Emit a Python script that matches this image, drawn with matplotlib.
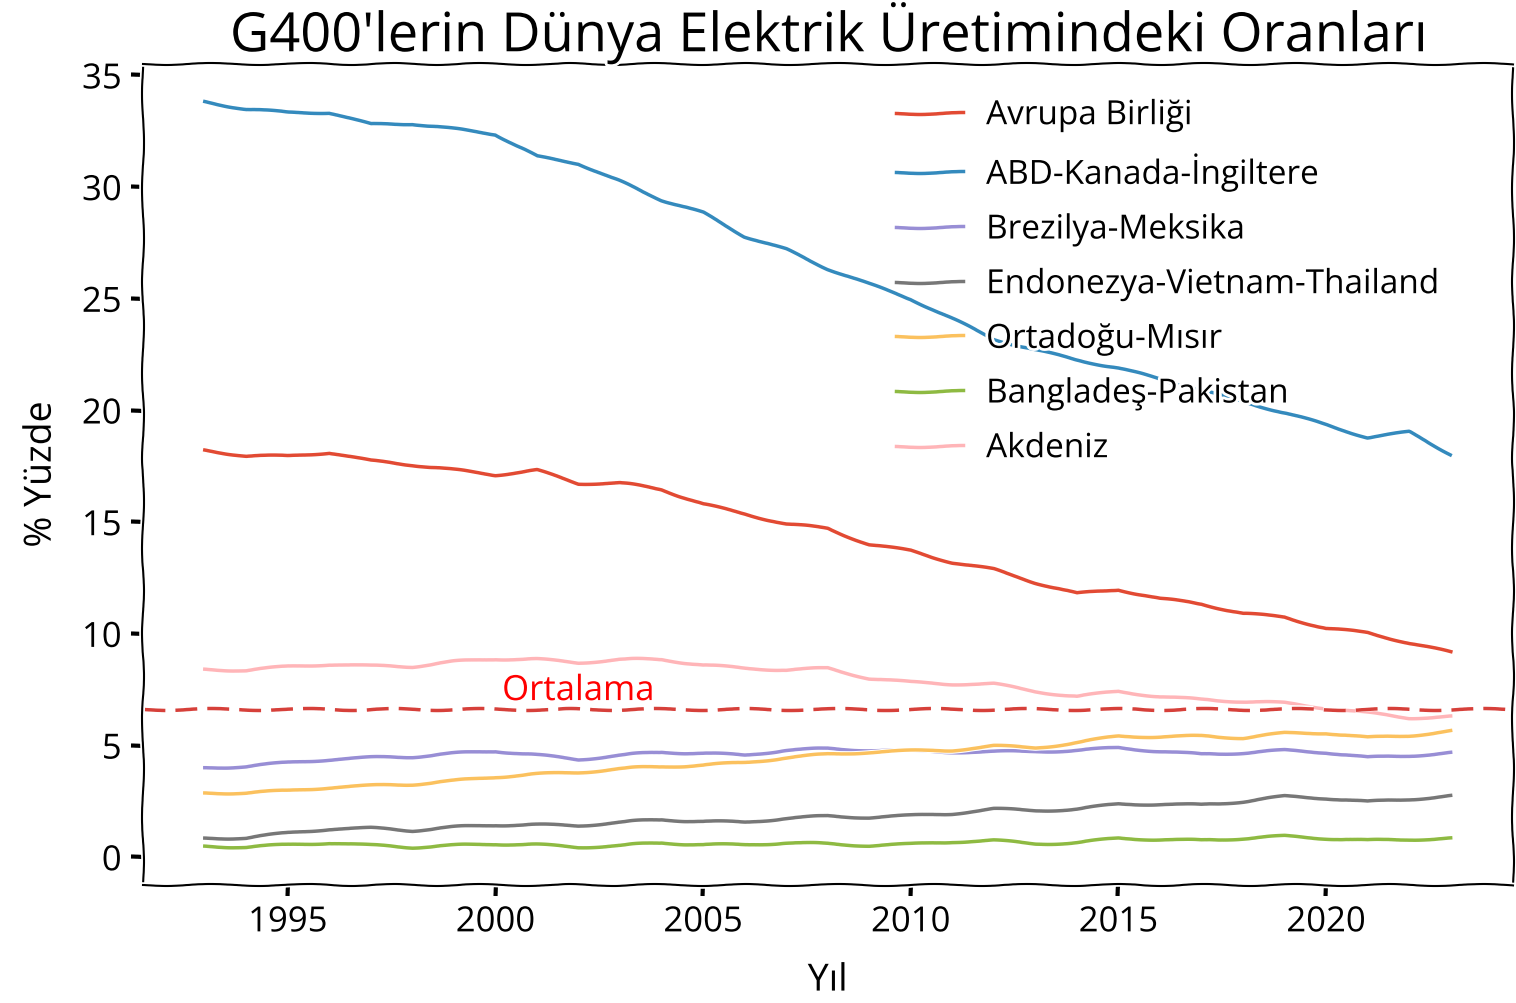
import matplotlib
matplotlib.use("Agg")
import matplotlib.pyplot as plt
import numpy as np

years = list(range(1993, 2024))

avrupa = [18.23, 17.96, 17.96, 18.12, 17.74, 17.57, 17.34, 17.12, 17.32, 16.73, 16.76,
          16.47, 15.8, 15.38, 14.91, 14.73, 13.99, 13.72, 13.2, 12.88, 12.3, 11.8,
          11.99, 11.57, 11.35, 10.9, 10.76, 10.24, 10.05, 9.6, 9.17]
abd = [33.83, 33.48, 33.34, 33.34, 32.8, 32.84, 32.6, 32.37, 31.36, 31.06, 30.25,
       29.43, 28.84, 27.8, 27.2, 26.35, 25.65, 25.0, 24.1, 23.2, 22.7, 22.27,
       21.9, 21.4, 20.9, 20.4, 19.9, 19.35, 18.8, 19.03, 18.05]
brezilya = [4.01, 4.06, 4.24, 4.38, 4.46, 4.5, 4.65, 4.76, 4.57, 4.38, 4.57,
            4.71, 4.65, 4.57, 4.8, 4.86, 4.8, 4.75, 4.72, 4.72, 4.74, 4.78,
            4.9, 4.75, 4.6, 4.68, 4.78, 4.7, 4.46, 4.55, 4.68]
endonezya = [0.86, 0.86, 1.09, 1.27, 1.3, 1.2, 1.35, 1.45, 1.45, 1.42, 1.57,
             1.69, 1.6, 1.57, 1.75, 1.84, 1.79, 1.86, 1.96, 2.16, 2.09, 2.15,
             2.38, 2.38, 2.34, 2.5, 2.72, 2.65, 2.48, 2.6, 2.75]
ortadogu = [2.88, 2.88, 2.98, 3.13, 3.2, 3.27, 3.42, 3.6, 3.72, 3.8, 3.97,
            4.06, 4.12, 4.24, 4.46, 4.61, 4.71, 4.76, 4.8, 4.98, 4.9, 5.13,
            5.42, 5.4, 5.42, 5.35, 5.55, 5.57, 5.35, 5.45, 5.65]
banglades = [0.5, 0.45, 0.56, 0.65, 0.53, 0.45, 0.53, 0.6, 0.56, 0.45, 0.53,
             0.65, 0.56, 0.56, 0.65, 0.6, 0.53, 0.58, 0.7, 0.75, 0.6, 0.65,
             0.85, 0.8, 0.75, 0.85, 0.94, 0.85, 0.75, 0.8, 0.85]
akdeniz = [8.42, 8.36, 8.54, 8.64, 8.56, 8.54, 8.76, 8.88, 8.86, 8.71, 8.86,
           8.86, 8.6, 8.46, 8.39, 8.46, 8.01, 7.83, 7.76, 7.76, 7.42, 7.2,
           7.42, 7.2, 7.05, 6.98, 6.9, 6.68, 6.46, 6.24, 6.3]

labels = ["Avrupa Birliği", "ABD-Kanada-İngiltere", "Brezilya-Meksika",
          "Endonezya-Vietnam-Thailand", "Ortadoğu-Mısır", "Bangladeş-Pakistan", "Akdeniz"]
colors = ["#E24A33", "#348ABD", "#988ED5", "#777777", "#FBC15E", "#8EBA42", "#FFB5B8"]
ortalama = 6.63

with plt.xkcd():
    plt.rcParams['font.family'] = ['Open Sans', 'DejaVu Sans']
    fig = plt.figure(figsize=(15.16, 10.04), dpi=100)
    ax = fig.add_axes([0.094, 0.118, 0.904, 0.817])

    series = [avrupa, abd, brezilya, endonezya, ortadogu, banglades, akdeniz]
    for s, lab, c in zip(series, labels, colors):
        ax.plot(years, s, color=c, label=lab, linewidth=2.5)

    ax.axhline(ortalama, color="#d6403a", linestyle="--", dashes=(6.3, 2.9), linewidth=2.5)
    ax.text(2002, ortalama + 0.05, "Ortalama", color="red", fontsize=25,
            ha="center", va="bottom")

    ax.set_title("G400'lerin Dünya Elektrik Üretimindeki Oranları", fontsize=39, pad=4)
    ax.set_xlabel("Yıl", fontsize=27, labelpad=16)
    ax.set_ylabel("% Yüzde", fontsize=27, labelpad=16)
    ax.tick_params(labelsize=25, pad=7)
    ax.set_xticks([1995, 2000, 2005, 2010, 2015, 2020])
    ax.set_yticks([0, 5, 10, 15, 20, 25, 30, 35])

    ax.legend(loc="upper left", bbox_to_anchor=(0.528, 0.994), frameon=False,
              fontsize=24, handlelength=2.0, handletextpad=0.7, labelspacing=0.65)

    fig.savefig("out.png", dpi=100)
